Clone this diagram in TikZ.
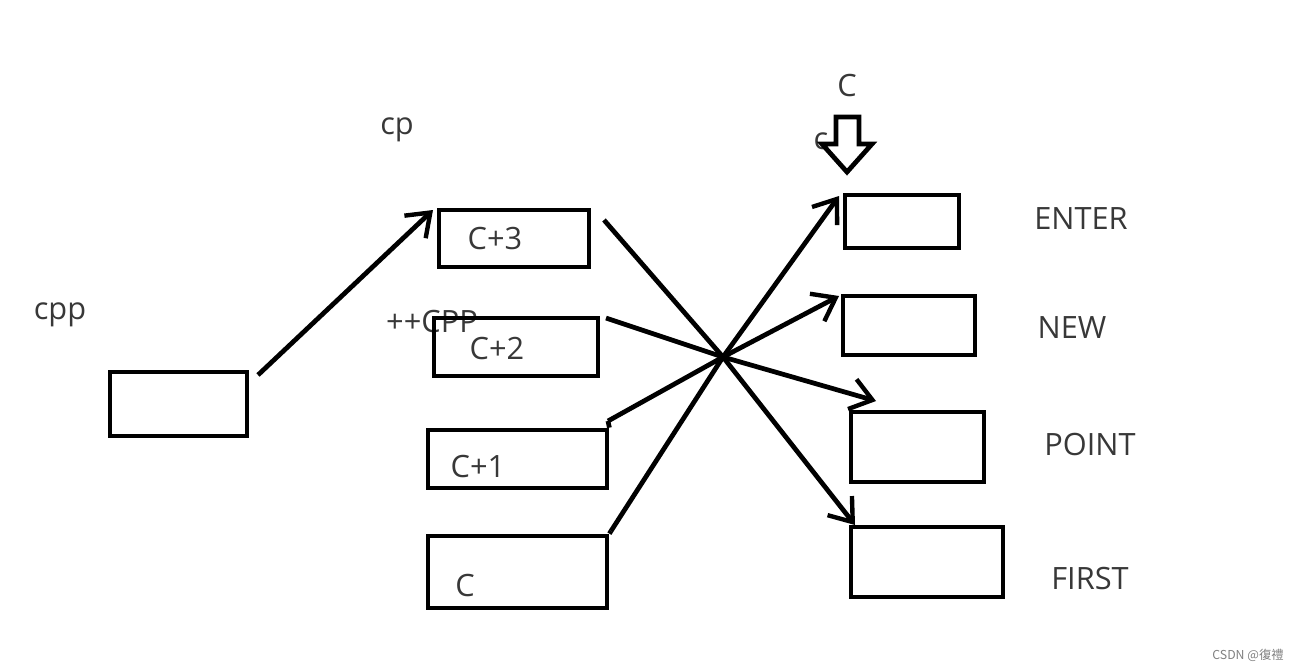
\documentclass[tikz,border=0pt]{standalone}
\usepackage{fontspec}
\setmainfont{Open Sans}
\newfontfamily\cjk{Noto Sans CJK TC}
\usetikzlibrary{arrows.meta,calc}

\begin{document}
\begin{tikzpicture}[x=0.02cm,y=-0.02cm]
    \tikzstyle{every node}=[font=\fontsize{17.5}{20}\selectfont, text=black!78]
    \tikzstyle{box}=[draw=black, line width=2.7pt, inner sep=0pt]
    \tikzstyle{link}=[line width=2.7pt, line join=round, -{Straight Barb[length=0.42cm, width=0.62cm, line width=2.5pt]}]
      \useasboundingbox (0,0) rectangle (1297,670);

      % labels
      \node (lcpp)  at (60,315)  {cpp};
      \node (lcp)   at (397,130) {cp};
      \node (lplus) at (432,322) {++CPP};
      \node (ltopc) at (847,86)  {C};
      \node (lsmc)  at (821,141) {c};

      % left boxes
      \node[box, minimum width=2.74cm, minimum height=1.28cm] (cpp) at (178.5,404) {};
      \node[box, minimum width=3.00cm, minimum height=1.14cm] (c3) at (514,238.5) {};
      \node[box, minimum width=3.28cm, minimum height=1.16cm] (c2) at (516,347) {};
      \node[box, minimum width=3.58cm, minimum height=1.16cm] (c1) at (517.5,459) {};
      \node[box, minimum width=3.58cm, minimum height=1.44cm] (c0) at (517.5,572) {};
      \node (tc3) at (495,239) {C+3};
      \node (tc2) at (497,349) {C+2};
      \node (tc1) at (478,467) {C+1};
      \node (tc0) at (465,586) {C};

      % right boxes
      \node[box, minimum width=2.28cm, minimum height=1.06cm] (enter) at (902,221.5) {};
      \node[box, minimum width=2.64cm, minimum height=1.18cm] (new)   at (909,325.5) {};
      \node[box, minimum width=2.66cm, minimum height=1.40cm] (point) at (917.5,447) {};
      \node[box, minimum width=3.04cm, minimum height=1.40cm] (first) at (927,562) {};
      \node (tenter) at (1081,219) {ENTER};
      \node (tnew)   at (1072,328) {NEW};
      \node (tpoint) at (1090,444) {POINT};
      \node (tfirst) at (1090,579) {FIRST};

      % hollow arrow
      \filldraw[fill=white, line width=2.7pt, line join=miter]
          (836,117) -- (859,117) -- (859,144) -- (872,144) -- (847,172)
          -- (822,144) -- (836,144) -- cycle;

      % start and end points
      \coordinate (X)  at (723,357);  % crossing
      \coordinate (P0) at (258,375);
      \coordinate (Q0) at (433,210);
      \coordinate (P3) at (604,220);
      \coordinate (Q3) at (855,525);
      \coordinate (P2) at (606,318);
      \coordinate (Q2) at (876,401);
      \coordinate (P1) at (608,421);
      \coordinate (Q1) at (839,296);
      \coordinate (PC) at (611,531);
      \coordinate (QC) at (839,196);

      % arrows
      \draw[link] (P0) -- (Q0);
      \draw[link] (P3) -- (X) -- (Q3);
      \draw[link] (P2) -- (X) -- (Q2);
      \draw[link] (P1) -- (X) -- (Q1);
      \draw[link] (PC) -- (X) -- (QC);
      \draw[line width=2.7pt] (P1) -- (c1.north east);
      \draw[line width=2.7pt] (PC) -- (c0.north east);

      % watermark
      \node[font=\cjk\fontsize{7}{8}\selectfont, text=black!50] (mark) at (1248,655) {CSDN @復禮};

    \end{tikzpicture}
\end{document}
